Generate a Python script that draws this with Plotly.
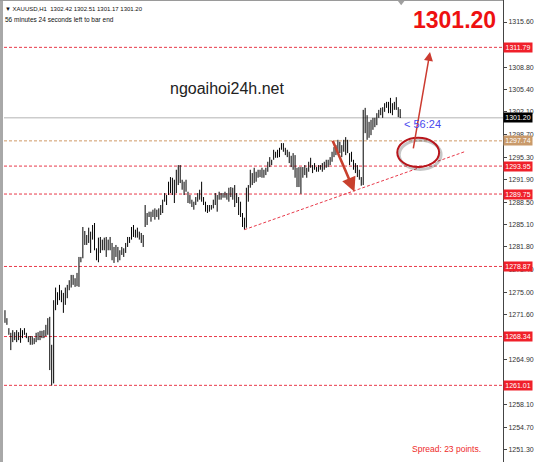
import plotly.graph_objects as go

# ---------------- data ----------------
symbol_header = "▼ XAUUSD,H1  1302.42 1302.51 1301.17 1301.20"
timer_text = "56 minutes 24 seconds left to bar end"
last_price = 1301.20

highs = [
    1272.3, 1271.1, 1269.6, 1268.9, 1269.3, 1269.0, 1269.3, 1269.0, 1269.6, 1269.3,
    1269.6, 1268.9, 1268.4, 1268.4, 1268.4, 1268.1, 1268.9, 1269.0, 1269.2, 1269.2,
    1269.3, 1270.1, 1271.1, 1271.3, 1267.1, 1273.8, 1275.7, 1275.0, 1276.1, 1275.3,
    1274.9, 1275.7, 1276.1, 1276.8, 1277.6, 1277.6, 1277.1, 1277.9, 1280.3, 1280.3,
    1284.8, 1284.2, 1283.6, 1284.7, 1284.1, 1285.1, 1285.4, 1281.6, 1283.2, 1283.3,
    1282.9, 1283.2, 1283.3, 1282.9, 1283.3, 1282.4, 1281.8, 1282.1, 1281.8, 1281.3,
    1281.8, 1281.6, 1282.4, 1283.3, 1283.3, 1284.8, 1285.1, 1284.4, 1284.7, 1284.1,
    1283.9, 1283.6, 1288.1, 1286.9, 1287.1, 1287.1, 1287.4, 1287.6, 1287.4, 1287.6,
    1288.1, 1288.9, 1289.9, 1289.6, 1291.6, 1292.3, 1292.2, 1291.9, 1293.4, 1294.1,
    1294.1, 1291.9, 1291.6, 1291.9, 1290.1, 1289.6, 1288.9, 1288.6, 1289.3, 1289.9,
    1290.4, 1291.6, 1289.3, 1288.6, 1288.1, 1288.1, 1288.1, 1288.9, 1289.9, 1289.6,
    1290.1, 1289.9, 1289.9, 1290.1, 1289.9, 1290.7, 1290.8, 1290.7, 1291.1, 1289.9,
    1289.3, 1288.6, 1286.9, 1286.2, 1290.7, 1291.1, 1293.4, 1292.9, 1293.7, 1293.1,
    1293.4, 1293.4, 1293.7, 1293.4, 1293.7, 1294.6, 1295.3, 1294.9, 1296.4, 1296.1,
    1296.4, 1296.7, 1297.4, 1297.4, 1296.7, 1296.4, 1296.1, 1295.5, 1295.9, 1295.6,
    1293.7, 1293.8, 1293.8, 1293.8, 1294.1, 1293.7, 1294.6, 1295.2, 1294.1, 1294.4,
    1293.8, 1294.1, 1294.1, 1294.4, 1294.6, 1294.9, 1294.9, 1295.3, 1296.1, 1296.8,
    1297.1, 1297.9, 1297.6, 1297.1, 1297.9, 1298.3, 1297.9, 1295.9, 1296.1, 1294.9,
    1294.4, 1294.1, 1293.4, 1292.3, 1302.4, 1302.7, 1301.6, 1300.6, 1300.9, 1301.2,
    1301.2, 1301.9, 1302.4, 1302.7, 1302.8, 1303.4, 1303.6, 1303.6, 1304.2, 1303.4,
    1303.6, 1304.3, 1302.8, 1302.51,
]

lows = [
    1270.4, 1270.1, 1268.6, 1266.3, 1267.5, 1267.8, 1267.5, 1267.8, 1267.4, 1268.1,
    1268.6, 1268.1, 1267.5, 1267.1, 1267.1, 1267.2, 1267.5, 1267.8, 1267.8, 1268.1,
    1268.1, 1268.4, 1268.6, 1263.3, 1261.0, 1261.3, 1272.3, 1273.1, 1273.8, 1273.5,
    1271.9, 1273.1, 1274.1, 1275.3, 1275.7, 1276.1, 1275.8, 1275.9, 1275.8, 1279.5,
    1280.1, 1282.1, 1282.1, 1282.4, 1280.9, 1282.9, 1281.3, 1279.8, 1279.5, 1280.9,
    1281.3, 1281.3, 1280.3, 1281.3, 1281.3, 1279.8, 1279.4, 1280.3, 1279.5, 1279.8,
    1280.6, 1280.3, 1280.9, 1281.8, 1282.4, 1282.9, 1283.3, 1283.2, 1283.2, 1282.9,
    1282.4, 1281.8, 1284.8, 1285.1, 1286.3, 1285.6, 1286.3, 1285.9, 1286.3, 1285.9,
    1286.6, 1286.9, 1288.6, 1288.1, 1289.6, 1289.9, 1289.6, 1288.4, 1289.9, 1291.1,
    1291.4, 1290.4, 1289.6, 1290.1, 1288.4, 1288.3, 1287.8, 1287.4, 1288.1, 1288.6,
    1288.9, 1288.6, 1288.1, 1287.1, 1286.9, 1287.1, 1287.4, 1287.6, 1288.1, 1287.1,
    1288.9, 1288.9, 1289.2, 1289.2, 1288.9, 1288.6, 1289.3, 1288.9, 1287.8, 1288.4,
    1286.6, 1286.3, 1284.8, 1284.4, 1284.7, 1288.6, 1290.7, 1291.1, 1291.4, 1291.6,
    1292.2, 1292.3, 1292.2, 1292.2, 1292.6, 1293.1, 1293.8, 1294.1, 1294.9, 1295.2,
    1295.2, 1295.3, 1296.4, 1296.1, 1295.6, 1295.3, 1294.4, 1293.8, 1293.4, 1292.2,
    1290.8, 1290.8, 1289.8, 1292.2, 1292.6, 1292.2, 1293.1, 1293.7, 1292.9, 1293.4,
    1293.1, 1293.1, 1293.4, 1293.1, 1293.4, 1293.7, 1293.8, 1294.1, 1294.6, 1295.3,
    1295.6, 1296.1, 1295.9, 1295.3, 1296.1, 1295.6, 1295.9, 1294.1, 1294.6, 1293.4,
    1292.9, 1292.3, 1291.9, 1291.0, 1291.1, 1298.9, 1297.9, 1298.2, 1298.6, 1299.4,
    1299.8, 1300.1, 1301.2, 1301.6, 1301.2, 1302.1, 1302.7, 1301.9, 1301.9, 1301.6,
    1302.4, 1302.4, 1301.3, 1301.17,
]

red_levels = [1311.79, 1293.95, 1289.75, 1278.87, 1268.34, 1261.01]
orange_level = 1297.74

tick_values = [1315.60, 1308.80, 1305.40, 1302.10, 1298.70, 1295.30,
               1291.90, 1288.50, 1285.10, 1281.80, 1278.40, 1275.00, 1271.60,
               1264.90, 1258.10, 1254.70, 1251.30]
tick_labels = ["%.2f" % v for v in tick_values]

# trend line / drawings (bar index, price)
trend_start = (123, 1284.4)
trend_end = (236, 1296.1)
arrow_down = ((168, 1298.0), (179.5, 1290.1))
arrow_up = ((209.6, 1296.4), (218.3, 1311.1))
ellipse_box = (201.5, 223.0, 1293.8, 1298.2)

# ---------------- figure ----------------
W, H = 534, 462
L, R = 4, 29
Y_TOP, Y_BOT = 1318.905, 1249.49

bx, by = [], []
for i, (hi, lo) in enumerate(zip(highs, lows)):
    bx += [i, i, None]
    by += [lo, hi, None]

fig = go.Figure()
fig.add_trace(go.Scatter(x=bx, y=by, mode="lines",
                         line=dict(color="#000000", width=1),
                         hoverinfo="skip", showlegend=False))

shapes = []
# horizontal levels
for lv in red_levels:
    shapes.append(dict(type="line", xref="paper", x0=0, x1=1, yref="y", y0=lv, y1=lv,
                       line=dict(color="#e8394a", width=1, dash="3px,2px"), layer="below"))
shapes.append(dict(type="line", xref="paper", x0=0, x1=1, yref="y", y0=orange_level, y1=orange_level,
                   line=dict(color="#d09a66", width=1, dash="3px,2px"), layer="below"))
shapes.append(dict(type="line", xref="paper", x0=0, x1=1, yref="y", y0=last_price, y1=last_price,
                   line=dict(color="#b4b4b4", width=1), layer="below"))
# trend line
shapes.append(dict(type="line", xref="x", yref="y",
                   x0=trend_start[0], y0=trend_start[1], x1=trend_end[0], y1=trend_end[1],
                   line=dict(color="#e8394a", width=1, dash="3px,2px")))
# ellipse with shadow
x0, x1, y0, y1 = ellipse_box
shapes.append(dict(type="circle", xref="x", yref="y", x0=x0 + 1, x1=x1 + 1, y0=y0 - 0.35, y1=y1 - 0.35,
                   line=dict(color="rgba(0,0,0,0.22)", width=3)))
shapes.append(dict(type="circle", xref="x", yref="y", x0=x0, x1=x1, y0=y0, y1=y1,
                   line=dict(color="#b8161c", width=2)))
# window borders
pw = W - L - R
shapes.append(dict(type="rect", xref="paper", yref="paper", x0=-L / pw, x1=-1 / pw, y0=0, y1=1,
                   fillcolor="#a8a8a8", line=dict(width=0)))
shapes.append(dict(type="line", xref="paper", yref="paper", x0=-L / pw, x1=1, y0=1, y1=1,
                   line=dict(color="#9a9a9a", width=2)))

annotations = []
# arrows
annotations.append(dict(x=arrow_down[1][0], y=arrow_down[1][1], ax=arrow_down[0][0], ay=arrow_down[0][1],
                        xref="x", yref="y", axref="x", ayref="y", showarrow=True, text="",
                        arrowhead=2, arrowsize=1.1, arrowwidth=2.6, arrowcolor="#c8402e"))
annotations.append(dict(x=arrow_up[1][0], y=arrow_up[1][1], ax=arrow_up[0][0], ay=arrow_up[0][1],
                        xref="x", yref="y", axref="x", ayref="y", showarrow=True, text="",
                        arrowhead=2, arrowsize=1.2, arrowwidth=1.5, arrowcolor="#cc3b30"))

# right-axis price boxes
def price_box(val, bg):
    return dict(xref="paper", x=1, xanchor="left", xshift=0, yref="y", y=val, yanchor="middle",
                text="%.2f" % val, showarrow=False, bgcolor=bg, borderpad=0, width=28, height=9,
                font=dict(family="Liberation Sans, Arial", size=7, color="white"))

for lv in red_levels:
    annotations.append(price_box(lv, "#f0202a"))
annotations.append(price_box(orange_level, "#c99a6a"))
annotations.append(price_box(last_price, "#000000"))

# texts
annotations.append(dict(xref="paper", yref="paper", x=-1 / pw, y=1 - 9 / H, xanchor="left", yanchor="middle",
                        text=symbol_header, showarrow=False,
                        font=dict(family="Liberation Sans, Arial", size=6, color="#111")))
annotations.append(dict(xref="paper", yref="paper", x=-1 / pw, y=1 - 20 / H, xanchor="left", yanchor="middle",
                        text=timer_text, showarrow=False,
                        font=dict(family="Liberation Sans, Arial", size=6.5, color="#111")))
annotations.append(dict(xref="paper", yref="paper", x=(228 - L) / pw, y=1 - 88 / H, xanchor="center",
                        yanchor="middle", text="ngoaihoi24h.net", showarrow=False,
                        font=dict(family="Liberation Sans, Arial", size=16, color="#222")))
annotations.append(dict(xref="paper", yref="paper", x=(500 - L) / pw, y=1 - 20 / H, xanchor="right",
                        yanchor="middle", text="<b>%.2f</b>" % last_price, showarrow=False,
                        font=dict(family="Liberation Sans, Arial", size=23, color="#ee1111")))
annotations.append(dict(xref="x", yref="y", x=len(highs), y=1300.35, xanchor="left", yanchor="middle",
                        text="&lt; 56:24", showarrow=False,
                        font=dict(family="Liberation Sans, Arial", size=11, color="#4a4aee")))
annotations.append(dict(xref="paper", yref="paper", x=(412 - L) / pw, y=1 - 449 / H, xanchor="left",
                        yanchor="middle", text="Spread: 23 points.", showarrow=False,
                        font=dict(family="Liberation Sans, Arial", size=8.5, color="#ee2a2a")))

# chart-shift marker
fig.add_trace(go.Scatter(x=[len(highs) - 0.5], y=[Y_TOP - 0.35], mode="markers",
                         marker=dict(symbol="triangle-down", size=6, color="#a0a0a0"),
                         hoverinfo="skip", showlegend=False, cliponaxis=False))

fig.update_layout(
    width=W, height=H,
    margin=dict(l=L, r=R, t=0, b=0),
    paper_bgcolor="white", plot_bgcolor="white",
    shapes=shapes, annotations=annotations,
    showlegend=False,
    xaxis=dict(range=[-0.5, 255.8], visible=False, fixedrange=True),
    yaxis=dict(range=[Y_BOT, Y_TOP], side="right", showgrid=False, zeroline=False,
               showline=True, linecolor="#444", linewidth=1, mirror=False,
               ticks="outside", ticklen=3, tickcolor="#444",
               tickvals=tick_values, ticktext=tick_labels,
               tickfont=dict(family="Liberation Sans, Arial", size=7, color="#333")),
)

fig.write_html("out.html", config={"displayModeBar": False},
               post_script="document.body.style.margin='0';document.body.style.overflow='hidden';")
